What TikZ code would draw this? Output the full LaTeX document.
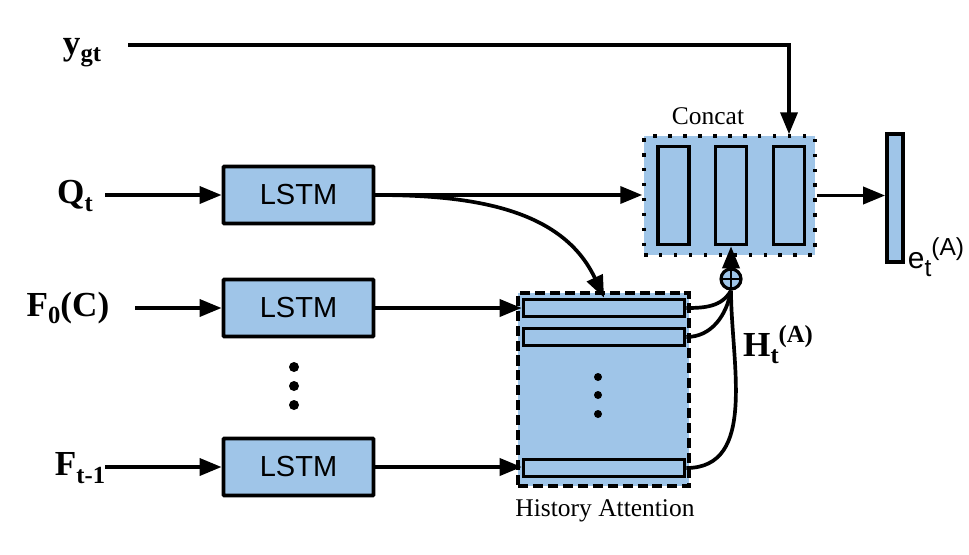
\documentclass[tikz,border=0pt]{standalone}
\usepackage{fontspec}
\setmainfont{Liberation Serif}
\setsansfont{Liberation Sans}
\usetikzlibrary{arrows.meta}
\definecolor{boxblue}{HTML}{9FC5E8}
\newcommand\lo[1]{\raisebox{-0.45ex}{\fontsize{14}{14}\selectfont #1}}
\newcommand\hi[1]{\raisebox{0.85ex}{\fontsize{14}{14}\selectfont #1}}
\tikzset{
  lstm/.style={
    draw,
    fill=boxblue,
    line width=2.2pt,
    rounded corners=0.5pt,
    minimum width=3.0cm,
    minimum height=1.14cm,
    font=\sffamily\fontsize{16.5}{16.5}\selectfont
  },
  slot/.style={
    draw,
    fill=boxblue,
    line width=2.1pt,
    inner sep=0,
    minimum width=0.62cm,
    minimum height=1.96cm
  },
  histrow/.style={
    draw,
    fill=boxblue,
    line width=2.1pt,
    inner sep=0,
    minimum width=3.22cm,
    minimum height=0.34cm
  },
  catbox/.style={
    draw,
    fill=boxblue,
    line width=2pt,
    dash pattern=on 2pt off 6.5pt,
    inner sep=0,
    minimum width=3.42cm,
    minimum height=2.38cm
  },
  histbox/.style={
    draw,
    fill=boxblue,
    line width=2.1pt,
    dash pattern=on 5.7pt off 2.8pt,
    inner sep=0,
    minimum width=3.42cm,
    minimum height=3.86cm
  },
  oplus/.style={
    shape=circle,
    draw,
    fill=boxblue,
    line width=1.8pt,
    inner sep=0,
    minimum size=0.4cm,
    path picture={
      \draw[line width=1.4pt] (path picture bounding box.north) -- (path picture bounding box.south)
        (path picture bounding box.west) -- (path picture bounding box.east);
    }
  },
  lbl/.style={font=\bfseries\fontsize{20}{20}\selectfont},
  boxtitle/.style={font=\fontsize{14.5}{14.5}\selectfont},
  wire/.style={line width=2.1pt},
  arr/.style={line width=2.1pt, -{Triangle[length=0.44cm,width=0.34cm]}}
}
\begin{document}
\begin{tikzpicture}[x=0.02cm,y=-0.02cm]
  \useasboundingbox (0,0) rectangle (969,554);
  % inputs
  \node[lbl] (ygt) at (82,53) {y\lo{gt}};
  \node[lbl] (qt) at (75,196) {Q\lo{t}};
  \node[lbl] (f0) at (68,308) {F\lo{0}(C)};
  \node[lbl] (ft) at (80,468) {F\lo{t-1}};
  \coordinate (yin) at (128,45);
  \coordinate (qin) at (105,195);
  \coordinate (f0in) at (135,308);
  \coordinate (ftin) at (105,467);
  % encoders
  \foreach \y/\n in {195/1,308/2,467/3}{
    \node[lstm] (l\n) at (298.5,\y) {LSTM};
  }
  \foreach \y in {367,386,405}{
    \fill (294,\y) circle (0.1cm);
  }
  % history attention
  \node[histbox] (hist) at (603.5,389.5) {};
  \foreach \y/\n in {308/1,337/2,468/3}{
    \node[histrow] (r\n) at (604,\y) {};
  }
  \foreach \y in {377,395,414}{
    \fill (598,\y) circle (0.08cm);
  }
  \node[boxtitle] (histlbl) at (605,511) {History Attention};
  % concat
  \node[catbox] (cat) at (729.5,195.5) {};
  \foreach \x/\n in {673.5/1,731/2,789/3}{
    \node[slot] (s\n) at (\x,195.5) {};
  }
  \node[boxtitle] (catlbl) at (708,116) {Concat};
  \node[slot, minimum width=0.32cm, minimum height=2.56cm] (et) at (895,198) {};
  \node[font=\sffamily\fontsize{17}{17}\selectfont] (etlbl) at (936,257) {e\lo{t}\hi{(A)}};
  \node[oplus] (op) at (731,279) {};
  \node[lbl] (hlbl) at (778,345) {H\lo{t}\hi{(A)}};
  % connections
  \draw[arr] (yin) -| (cat.north -| s3);
  \draw[arr] (qin) -- (l1.west);
  \draw[arr] (f0in) -- (l2.west);
  \draw[arr] (ftin) -- (l3.west);
  \draw[arr] (l1.east) -- (l1.east -| cat.west);
  \draw[arr] (l1.east) to[out=0,in=115] (r1.north);
  \draw[arr] (l2.east) -- (l2.east -| r1.west);
  \draw[arr] (l3.east) -- (l3.east -| r3.west);
  \draw[arr] (cat.east) -- (cat.east -| et.west);
  \draw[wire] (r1.east) to[out=0,in=-120] (op.south);
  \draw[wire] (r2.east) to[out=0,in=-100] (op.south);
  \draw[wire] (r3.east) to[out=0,in=-90] (op.south);
  \draw[arr] (op) -- (s2.south);
\end{tikzpicture}
\end{document}
